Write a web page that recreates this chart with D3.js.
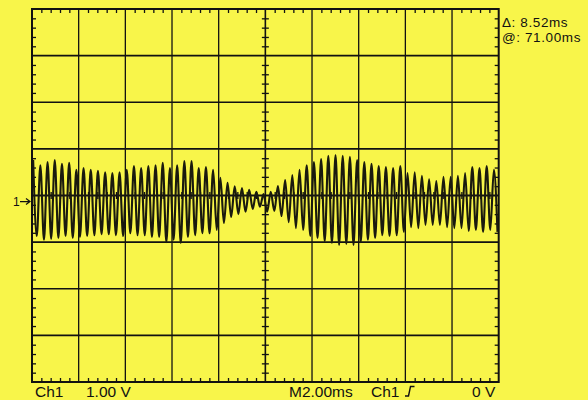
<!DOCTYPE html>
<html>
<head>
<meta charset="utf-8">
<script src="https://cdn.jsdelivr.net/npm/d3@7"></script>
<style>
html,body{margin:0;padding:0;background:#f8f54a;}
svg{display:block;}
text{font-family:"Liberation Sans",Arial,sans-serif;fill:#111;}
</style>
</head>
<body>
<svg id="chart" width="588" height="400"></svg>
<script>
// ---- data ----
const timeDomainMs = [0, 20];          // 10 div x 2.00 ms
const voltDomain = [-4, 4];            // 8 div x 1.00 V
const gridTimes = [2, 4, 6, 8, 10, 12, 14, 16, 18];
const gridVolts = [-3, -2, -1, 0, 1, 2, 3];
const firstPeakMs = 0.05;
const cyclePeriodMs = 0.3085;
// positive peak per cycle (V)
const peakVolts = [
  0.76,0.65,0.72,0.76,0.68,0.70,0.55,0.59,0.55,0.53,0.50,0.48,0.50,
  0.55,0.63,0.59,0.63,0.65,0.70,0.59,0.65,0.74,0.74,0.59,0.61,0.55,
  0.38,0.27,0.20,0.16,0.12,0.08,0.03,0.08,0.20,0.33,0.44,0.55,0.65,
  0.72,0.78,0.85,0.87,0.85,0.83,0.76,0.72,0.68,0.63,0.61,0.59,0.63,
  0.48,0.50,0.42,0.35,0.31,0.40,0.40,0.42,0.48,0.61,0.59,0.63,0.55
];
// negative trough per cycle (V)
const troughVolts = [
  -0.87,-0.95,-0.93,-0.91,-0.87,-0.91,-0.89,-0.87,-0.85,-0.83,-0.83,-0.85,-0.87,
  -0.81,-0.85,-0.85,-0.89,-0.89,-1.00,-0.95,-1.02,-0.89,-0.85,-0.81,-0.81,-0.74,
  -0.59,-0.46,-0.40,-0.35,-0.29,-0.24,-0.35,-0.33,-0.44,-0.57,-0.70,-0.74,-0.87,
  -0.91,-0.98,-1.02,-1.06,-1.04,-1.06,-1.00,-0.95,-0.91,-0.85,-0.87,-0.85,-0.78,
  -0.68,-0.70,-0.63,-0.63,-0.63,-0.68,-0.70,-0.70,-0.76,-0.74,-0.78,-0.74,-0.78
];
const readoutLabels = ["\u0394: 8.52ms", "@: 71.00ms"];
const bottomLabels = ["Ch1", "1.00 V", "M2.00ms", "Ch1", "0 V"];
const groundMarkerVolts = -0.13;

// ---- drawing ----
const svg = d3.select("#chart");
const L = 32, R = 498.7, T = 9, B = 382;
const x = d3.scaleLinear().domain(timeDomainMs).range([L, R]);
const y = d3.scaleLinear().domain(voltDomain).range([B, T]);

svg.append("rect").attr("width", 588).attr("height", 400).attr("fill", "#f8f54a");

const ink = "#111";
const g = svg.append("g");

// grid
g.selectAll(".vg").data(gridTimes).join("line")
  .attr("x1", d => x(d)).attr("x2", d => x(d)).attr("y1", T).attr("y2", B)
  .attr("stroke", ink).attr("stroke-width", d => d === 10 ? 1.6 : 1.3);
g.selectAll(".hg").data(gridVolts).join("line")
  .attr("y1", d => y(d)).attr("y2", d => y(d)).attr("x1", L).attr("x2", R)
  .attr("stroke", ink).attr("stroke-width", d => d === 0 ? 1.8 : 1.6);
g.append("rect").attr("x", L).attr("y", T).attr("width", R - L).attr("height", B - T)
  .attr("fill", "none").attr("stroke", ink).attr("stroke-width", 2);

// minor ticks via axes
const tMinor = d3.range(0, 20.001, 0.4).filter(v => Math.abs(v / 2 - Math.round(v / 2)) > 1e-6);
const vMinor = d3.range(-4, 4.001, 0.2).filter(v => Math.abs(v - Math.round(v)) > 1e-6);
function clean(sel) { sel.select(".domain").remove(); sel.selectAll("text").remove(); sel.selectAll("line").attr("stroke", ink).attr("stroke-width", 1.3); }
svg.append("g").attr("transform", `translate(0,${T})`).call(d3.axisBottom(x).tickValues(tMinor).tickSize(4).tickFormat("")).call(clean);
svg.append("g").attr("transform", `translate(0,${B})`).call(d3.axisTop(x).tickValues(tMinor).tickSize(4).tickFormat("")).call(clean);
svg.append("g").attr("transform", `translate(${L},0)`).call(d3.axisRight(y).tickValues(vMinor).tickSize(4).tickFormat("")).call(clean);
svg.append("g").attr("transform", `translate(${R},0)`).call(d3.axisLeft(y).tickValues(vMinor).tickSize(4).tickFormat("")).call(clean);
// center axes, ticks on both sides
svg.append("g").attr("transform", `translate(0,${y(0) - 3.5})`).call(d3.axisBottom(x).tickValues(tMinor).tickSize(7).tickFormat("")).call(clean);
svg.append("g").attr("transform", `translate(${x(10) - 3.5},0)`).call(d3.axisRight(y).tickValues(vMinor).tickSize(7).tickFormat("")).call(clean);

// waveform from peaks/troughs
const pts = [];
peakVolts.forEach((p, i) => {
  pts.push({ t: firstPeakMs + i * cyclePeriodMs, v: p });
  pts.push({ t: firstPeakMs + (i + 0.5) * cyclePeriodMs, v: troughVolts[i] });
});
const line = d3.line().x(d => x(d.t)).y(d => y(d.v)).curve(d3.curveMonotoneX);
svg.append("path").datum(pts).attr("d", line)
  .attr("fill", "none").attr("stroke", "#1a1a0e").attr("stroke-width", 2.1)
  .attr("stroke-linejoin", "round");

// ground marker "1 ->"
const gy = y(groundMarkerVolts);
svg.append("text").attr("x", 13).attr("y", gy + 4.5).attr("font-size", 12).text("1");
svg.append("path").attr("d", `M20,${gy} H30 M26,${gy - 3} L30,${gy} L26,${gy + 3}`)
  .attr("fill", "none").attr("stroke", ink).attr("stroke-width", 1.2);

// readouts
svg.selectAll(".ro").data(readoutLabels).join("text")
  .attr("x", 502).attr("y", (d, i) => 27 + i * 15)
  .attr("font-size", 13.5).attr("letter-spacing", 0.6).text(d => d);

// bottom labels
const bx = [35, 86, 289, 371, 472];
svg.selectAll(".bl").data(bottomLabels).join("text")
  .attr("x", (d, i) => bx[i]).attr("y", 396.5).attr("font-size", 15.5).text(d => d);
// trigger rising-edge symbol
svg.append("path").attr("d", "M405,396 H408.5 L410.5,386.5 H414.5")
  .attr("fill", "none").attr("stroke", ink).attr("stroke-width", 1.4);
</script>
</body>
</html>
